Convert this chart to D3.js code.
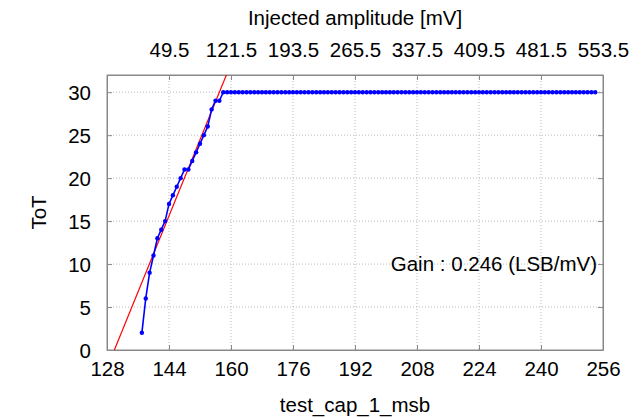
<!DOCTYPE html>
<html>
<head>
<meta charset="utf-8">
<script src="https://cdn.jsdelivr.net/npm/d3@7"></script>
<style>
  body { margin: 0; background: #fff; }
  text { font-family: "Liberation Sans", Arial, sans-serif; fill: #000; }
</style>
</head>
<body>
<div id="chart"></div>
<script>
// measured ToT for each test_cap_1_msb value
const capValues = [137, 138, 139, 140, 141, 142, 143, 144, 145, 146, 147, 148, 149, 150, 151, 152, 153, 154, 155, 156, 157];
const totValues = [2, 6, 9, 11, 13, 14, 15, 17, 18, 19, 20, 21, 21, 22, 23, 24, 25, 26, 28, 29, 29];
// saturated region: ToT stays at 30 from 158 to 254
const satStart = 158, satEnd = 254, satTot = 30;

const xTicks = [128, 144, 160, 176, 192, 208, 224, 240, 256];
const yTicks = [0, 5, 10, 15, 20, 25, 30];
const mvTicks = [49.5, 121.5, 193.5, 265.5, 337.5, 409.5, 481.5, 553.5];

// linear fit, slope in ToT per msb step, zero crossing
const fitSlope = 1.107, fitZero = 129.9;
const gain = 0.246;

let data = capValues.map((c, i) => ({ x: c, y: totValues[i] }));
for (let c = satStart; c <= satEnd; c++) data.push({ x: c, y: satTot });

const width = 644, height = 418;
const margin = { top: 75, left: 107, bottom: 68, right: 41 };
const iwidth = width - margin.left - margin.right;
const iheight = height - margin.top - margin.bottom;
const fs = "20.5px";

const svg = d3.select("#chart").append("svg")
  .attr("width", width).attr("height", height);

const g = svg.append("g").attr("transform", `translate(${margin.left},${margin.top})`);

const x = d3.scaleLinear().domain([128, 256]).range([0, iwidth]);
const y = d3.scaleLinear().domain([0, 32]).range([iheight, 0]);
// top axis: injected amplitude in mV, 4.5 mV per step
const mv = d3.scaleLinear().domain([128 * 4.5 - 598.5, 256 * 4.5 - 598.5]).range([0, iwidth]);

// grid
g.selectAll(".vgrid").data(xTicks.slice(1, -1)).enter().append("line")
  .attr("x1", d => x(d)).attr("x2", d => x(d))
  .attr("y1", 0).attr("y2", iheight)
  .attr("stroke", "#bbb").attr("stroke-width", 1).attr("stroke-dasharray", "1,2");
g.selectAll(".hgrid").data(yTicks.slice(1)).enter().append("line")
  .attr("x1", 0).attr("x2", iwidth)
  .attr("y1", d => y(d)).attr("y2", d => y(d))
  .attr("stroke", "#bbb").attr("stroke-width", 1).attr("stroke-dasharray", "1,2");

// axes
const axBottom = g.append("g").attr("transform", `translate(0,${iheight})`)
  .call(d3.axisBottom(x).tickValues(xTicks).tickSizeInner(-5).tickSizeOuter(0).tickPadding(11));
const axLeft = g.append("g")
  .call(d3.axisLeft(y).tickValues(yTicks).tickSizeInner(-5).tickSizeOuter(0).tickPadding(16));
const axTop = g.append("g")
  .call(d3.axisTop(mv).tickValues(mvTicks).tickFormat(d3.format(".1f"))
    .tickSizeInner(-5).tickSizeOuter(0).tickPadding(18));
const axRight = g.append("g").attr("transform", `translate(${iwidth},0)`)
  .call(d3.axisRight(y).tickValues(yTicks).tickSizeInner(-5).tickSizeOuter(0).tickFormat(""));

[axBottom, axLeft, axTop, axRight].forEach(a => {
  a.select(".domain").attr("stroke", "#888");
  a.selectAll(".tick line").attr("stroke", "#888");
  a.selectAll(".tick text").style("font-size", fs).attr("fill", "#000")
    .style("font-family", '"Liberation Sans", Arial, sans-serif');
});
axLeft.selectAll(".tick text").attr("dy", "0.36em");
// closing the frame
g.append("rect").attr("width", iwidth).attr("height", iheight)
  .attr("fill", "none").attr("stroke", "#888");

// clip for fit line
svg.append("clipPath").attr("id", "clip").append("rect")
  .attr("width", iwidth).attr("height", iheight);

const fitLine = d3.line().x(d => x(d)).y(d => y(fitSlope * (d - fitZero)));
g.append("path").datum([fitZero, 256])
  .attr("clip-path", "url(#clip)")
  .attr("d", fitLine).attr("fill", "none").attr("stroke", "#f00").attr("stroke-width", 1.2);

const line = d3.line().x(d => x(d.x)).y(d => y(d.y));
g.append("path").datum(data)
  .attr("d", line).attr("fill", "none").attr("stroke", "#00f").attr("stroke-width", 1.6);
g.selectAll(".pt").data(data).enter().append("circle")
  .attr("cx", d => x(d.x)).attr("cy", d => y(d.y)).attr("r", 2.2).attr("fill", "#00f");

// labels
g.append("text").attr("x", iwidth - 6).attr("y", y(10))
  .attr("dy", "0.36em").attr("text-anchor", "end").style("font-size", fs)
  .text(`Gain : ${gain} (LSB/mV)`);

svg.append("text").attr("x", margin.left + iwidth / 2).attr("y", 25)
  .attr("text-anchor", "middle").style("font-size", fs).text("Injected amplitude [mV]");
svg.append("text").attr("x", margin.left + iwidth / 2).attr("y", 412)
  .attr("text-anchor", "middle").style("font-size", fs).text("test_cap_1_msb");
svg.append("text").attr("transform", `translate(46,${margin.top + iheight / 2}) rotate(-90)`)
  .attr("text-anchor", "middle").style("font-size", fs).text("ToT");
</script>
</body>
</html>
